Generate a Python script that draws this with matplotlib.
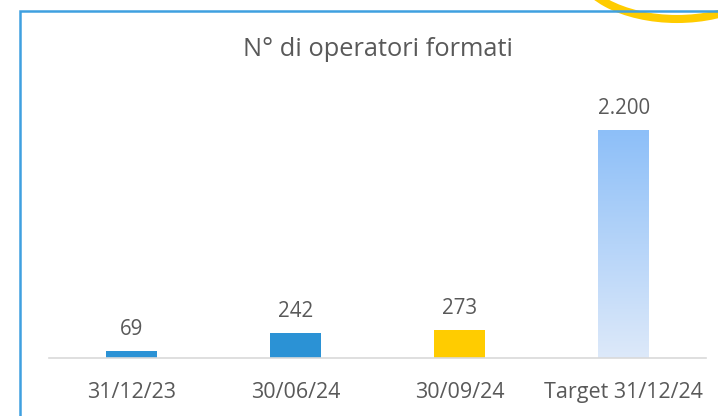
import numpy as np
import matplotlib.pyplot as plt
from matplotlib.patches import Arc
from matplotlib.colors import LinearSegmentedColormap

plt.rcParams["font.family"] = ["Open Sans", "DejaVu Sans"]

# data
categories = ["31/12/23", "30/06/24", "30/09/24", "Target 31/12/24"]
values = [69, 242, 273, 2200]
value_labels = ["69", "242", "273", "2.200"]
bar_colors = ["#2B92D5", "#2B92D5", "#FFCC00", None]

TEXT = "#595959"
W, H = 718, 416

fig = plt.figure(figsize=(W / 100, H / 100), dpi=100)

# axes placed so the baseline sits at y=358px and 2200 at y=130px
ax_left, ax_right = 49, 706
ax_bottom, ax_top = 358, 80
ax = fig.add_axes([ax_left / W, (H - ax_bottom) / H,
                   (ax_right - ax_left) / W, (ax_bottom - ax_top) / H])
ymax = 2200 * (ax_bottom - ax_top) / (358 - 130)
ax.set_xlim(-0.5, len(categories) - 0.5)
ax.set_ylim(0, ymax)

x = np.arange(len(categories))
width = 0.31
bars = ax.bar(x, values, width=width,
              color=[c if c else "none" for c in bar_colors], zorder=2)

# gradient fill for the target bar
grad = LinearSegmentedColormap.from_list("g", ["#DDE9FA", "#8DBFF8"])
target = bars[3]
bx, by = target.get_x(), target.get_y()
img = ax.imshow(np.linspace(0, 1, 256).reshape(-1, 1), cmap=grad, origin="lower",
                extent=[bx, bx + target.get_width(), by, by + target.get_height()],
                aspect="auto", zorder=2)
img.set_clip_path(target)

for xi, v, lab in zip(x, values, value_labels):
    ax.annotate(lab, (xi, v), xytext=(0, 8), textcoords="offset points",
                ha="center", va="bottom", fontsize=14.8, color=TEXT)

ax.set_xticks(x)
ax.set_xticklabels(categories, fontsize=15.5, color=TEXT)
ax.tick_params(axis="x", length=0, pad=17)
ax.set_yticks([])
for s in ["top", "right", "left"]:
    ax.spines[s].set_visible(False)
ax.spines["bottom"].set_color("#D9D9D9")
ax.spines["bottom"].set_linewidth(1.2)

fig.text(378 / W, 1 - 49 / H, "N° di operatori formati", ha="center", va="center",
         fontsize=18.3, color=TEXT)

# frame decorations: blue border and yellow arc
deco = fig.add_axes([0, 0, 1, 1], zorder=-1)
deco.set_xlim(0, W)
deco.set_ylim(H, 0)
deco.axis("off")
deco.patch.set_alpha(0)
deco.add_patch(Arc((677, -36), 200, 110, theta1=0, theta2=180,
                   color="#FFCC00", linewidth=5.8))
deco.plot([20, 20, W], [H, 10.5, 10.5], color="#3FA0E0", linewidth=1.8,
          solid_joinstyle="miter")

fig.savefig("out.png", dpi=100)
